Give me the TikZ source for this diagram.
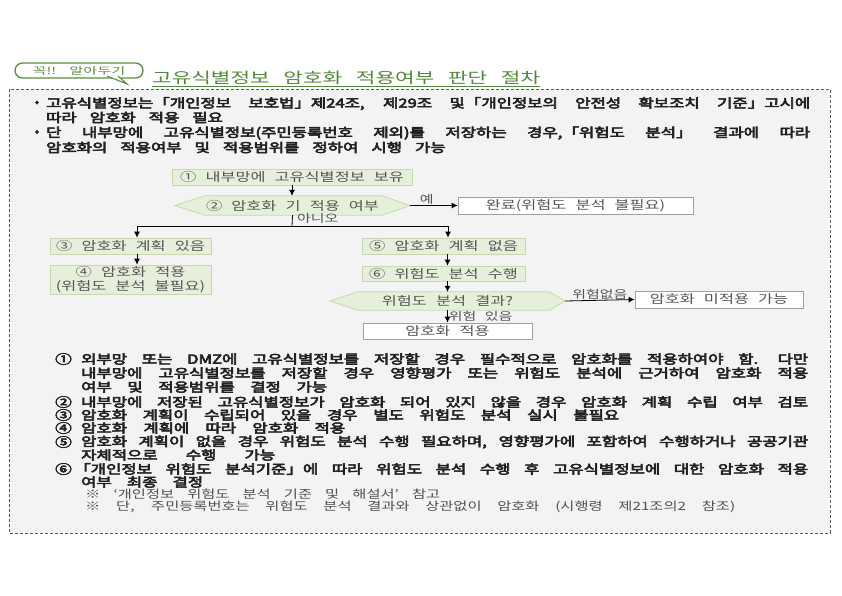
\documentclass[tikz,border=0pt]{standalone}
\usepackage{fontspec}
\usepackage{graphicx}
\setmainfont{Noto Sans CJK KR}[WordSpace=3.5]
\newfontfamily\flowfont{Noto Sans CJK KR}[WordSpace=2]
\newfontfamily\titlefont{Noto Sans CJK KR}[WordSpace=2.5]
\usetikzlibrary{arrows.meta}
\definecolor{bggray}{HTML}{F3F3F3}
\definecolor{dashc}{HTML}{5A5A5A}
\definecolor{gfill}{HTML}{E6EFDA}
\definecolor{gline}{HTML}{C6D9B0}
\definecolor{wline}{HTML}{A0A0A0}
\definecolor{flowtext}{HTML}{555555}
\definecolor{bodytext}{HTML}{222222}
\definecolor{notetext}{HTML}{505050}
\definecolor{titlegreen}{HTML}{4F8A38}
\definecolor{callgreen}{HTML}{5B8E3E}
\newcommand\fsflow{\flowfont\fontsize{12}{13.5}\selectfont}
\newcommand\fslbl{\flowfont\fontsize{11}{12}\selectfont}
\newcommand\fsbody{\fontsize{12.5}{14}\selectfont}
\newcommand\fsnote{\fontsize{11.5}{12.5}\selectfont}
\newcommand\fstitle{\titlefont\fontsize{15}{17}\selectfont}
\newcommand\widen[1]{\scalebox{1.33}[1]{#1}}
\newcommand\widenf[1]{\scalebox{1.36}[1]{#1}}
\newcommand\justln[2]{\scalebox{1.33}[1]{\makebox[\dimexpr #1*100/133\relax][s]{#2}}}
\newcommand\boldtx[1]{\special{pdf:literal direct 2 Tr 0.5 w}#1\special{pdf:literal direct 0 Tr}}
\pgfdeclarelayer{bg}
\pgfsetlayers{bg,main}
\tikzset{
  box/.style={draw=gline, fill=gfill, line width=0.8pt, inner sep=0pt, text=flowtext, font=\fsflow},
  wbox/.style={draw=wline, fill=white, line width=0.8pt, inner sep=0pt, text=flowtext, font=\fsflow},
  hexnode/.style={inner sep=0pt, text=flowtext, font=\fsflow},
  hexshape/.style={draw=gline, fill=gfill, line width=0.8pt},
  arr/.style={-{Latex[length=6pt,width=6pt]}, line width=0.8pt, black},
  lnk/.style={line width=0.8pt, black},
  lbl/.style={font=\fslbl, text=flowtext, inner sep=1pt},
  txt/.style={anchor=west, inner sep=0pt, font=\fsbody, text=bodytext},
  num/.style={anchor=west, inner sep=0pt, font=\fsbody, text=bodytext},
  note/.style={anchor=west, inner sep=0pt, font=\fsnote, text=notetext},
}
\begin{document}
\begin{tikzpicture}[x=1pt,y=-1pt]
\useasboundingbox (0,0) rectangle (842,595);
\begin{pgfonlayer}{bg}
  \fill[white] (0,0) rectangle (842,595);
  \draw[dashc, fill=bggray, line width=0.8pt, dash pattern=on 3pt off 2pt] (9,89) rectangle (830,533);
\end{pgfonlayer}

% callout and title
\node[draw=callgreen, line width=1.3pt, rounded corners=7.5pt, minimum width=128pt, minimum height=15pt, fill=white, inner sep=0pt, text=callgreen, font=\fontsize{9.5}{11}\selectfont] (call) at (79,70.5) {\scalebox{1.6}[1]{꼭!! 알아두기}};
\draw[callgreen, line width=1.1pt, fill=white] (107,76) -- (127,84) -- (118,76);
\node[anchor=west, inner sep=0pt, text=titlegreen, font=\fstitle] (title) at (152,78) {\scalebox{1.42}[1]{\makebox[\dimexpr 388pt*100/142\relax][s]{고유식별정보 암호화 적용여부 판단 절차}}};
\draw[titlegreen, line width=0.9pt] ([yshift=-1.5pt]title.south west) -- ([yshift=-1.5pt]title.south east);

% bullets
\node[inner sep=0pt, font=\fsbody, text=bodytext] (bu1) at (37,103.5) {\boldtx{•}};
\node[txt] (b1a) at (46,103.5) {\boldtx{\justln{764pt}{고유식별정보는「개인정보 보호법」제24조, 제29조 및「개인정보의 안전성 확보조치 기준」고시에}}};
\node[txt] (b1b) at (46,117.5) {\boldtx{\widen{따라 암호화 적용 필요}}};
\node[inner sep=0pt, font=\fsbody, text=bodytext] (bu2) at (37,133) {\boldtx{•}};
\node[txt] (b2a) at (46,133) {\boldtx{\justln{764pt}{단 내부망에 고유식별정보(주민등록번호 제외)를 저장하는 경우,「위험도 분석」 결과에 따라}}};
\node[txt] (b2b) at (46,147.5) {\boldtx{\widen{암호화의 적용여부 및 적용범위를 정하여 시행 가능}}};

% flowchart
\node[box, minimum width=240pt, minimum height=16pt] (n1) at (292,177) {\widenf{① 내부망에 고유식별정보 보유}};
\node[hexnode, minimum width=235pt, minimum height=19pt] (n2) at (292.5,205.5) {\widenf{② 암호화 기 적용 여부}};
\node[wbox, minimum width=235pt, minimum height=17pt] (done) at (575.5,205.5) {\widenf{완료(위험도 분석 불필요)}};
\coordinate (j) at (292,226);
\coordinate (jl) at (137,226);
\coordinate (jr) at (448,226);
\node[box, minimum width=161pt, minimum height=16pt] (n3) at (130.5,246) {\widenf{③ 암호화 계획 있음}};
\node[box, minimum width=161pt, minimum height=29pt, align=center] (n4) at (130.5,279.5) {\widenf{④ 암호화 적용}\\\widenf{(위험도 분석 불필요)}};
\node[box, minimum width=163pt, minimum height=16pt] (n5) at (443.5,246) {\widenf{⑤ 암호화 계획 없음}};
\node[box, minimum width=163pt, minimum height=15pt] (n6) at (443.5,273.5) {\widenf{⑥ 위험도 분석 수행}};
\node[hexnode, minimum width=235pt, minimum height=18pt] (n7) at (447.5,301) {\widenf{위험도 분석 결과?}};
\node[wbox, minimum width=168pt, minimum height=17pt] (n8) at (719,299.5) {\widenf{암호화 미적용 가능}};
\node[wbox, minimum width=169pt, minimum height=16pt] (n9) at (447.5,331) {\widenf{암호화 적용}};

\begin{pgfonlayer}{bg}
  \draw[hexshape] (n2.west) -- ([xshift=30pt]n2.north west) -- ([xshift=-28pt]n2.north east) -- (n2.east) -- ([xshift=-28pt]n2.south east) -- ([xshift=30pt]n2.south west) -- cycle;
  \draw[hexshape] (n7.west) -- ([xshift=28pt]n7.north west) -- ([xshift=-16pt]n7.north east) -- (n7.east) -- ([xshift=-16pt]n7.south east) -- ([xshift=28pt]n7.south west) -- cycle;
\end{pgfonlayer}

\draw[arr] (n1.south) -- (n1.south |- n2.north);
\draw[arr] (n2.east) -- node[lbl, above, pos=0.35] (lyes) {\widenf{예}} (done.west);
\draw[lnk] (n2.south) -- (j);
\node[lbl, anchor=west] (lno) at (296,218.5) {\widenf{아니오}};
\draw[lnk] (jl) -- (jr);
\draw[arr] (jl) -- (jl |- n3.north);
\draw[arr] (jr) -- (jr |- n5.north);
\draw[arr] (n3.south -| jl) -- (n4.north -| jl);
\draw[arr] (n5.south -| n7.north) -- (n6.north -| n7.north);
\draw[arr] (n6.south -| n7.north) -- (n7.north);
\draw[arr] (n7.east) -- node[lbl, above] (lsafe) {\widenf{위험없음}} (n8.west);
\draw[arr] (n7.south) -- node[lbl, right] (lrisk) {\widenf{위험 있음}} (n9.north);

% numbered list
\node[num] (c1) at (55,359) {\boldtx{\widen{①}}};
\node[txt] (l1) at (81,359) {\boldtx{\justln{727pt}{외부망 또는 DMZ에 고유식별정보를 저장할 경우 필수적으로 암호화를 적용하여야 함. 다만}}};
\node[txt] (l2) at (81,373) {\boldtx{\justln{727pt}{내부망에 고유식별정보를 저장할 경우 영향평가 또는 위험도 분석에 근거하여 암호화 적용}}};
\node[txt] (l3) at (81,387) {\boldtx{\justln{246pt}{여부 및 적용범위를 결정 가능}}};
\node[num] (c2) at (55,402) {\boldtx{\widen{②}}};
\node[txt] (l4) at (81,402) {\boldtx{\justln{727pt}{내부망에 저장된 고유식별정보가 암호화 되어 있지 않을 경우 암호화 계획 수립 여부 검토}}};
\node[num] (c3) at (55,415) {\boldtx{\widen{③}}};
\node[txt] (l5) at (81,415) {\boldtx{\justln{538pt}{암호화 계획이 수립되어 있을 경우 별도 위험도 분석 실시 불필요}}};
\node[num] (c4) at (55,428) {\boldtx{\widen{④}}};
\node[txt] (l6) at (81,428) {\boldtx{\justln{264pt}{암호화 계획에 따라 암호화 적용}}};
\node[num] (c5) at (55,442) {\boldtx{\widen{⑤}}};
\node[txt] (l7) at (81,442) {\boldtx{\justln{727pt}{암호화 계획이 없을 경우 위험도 분석 수행 필요하며, 영향평가에 포함하여 수행하거나 공공기관}}};
\node[txt] (l8) at (81,455) {\boldtx{\justln{194pt}{자체적으로 수행 가능}}};
\node[num] (c6) at (55,469) {\boldtx{\widen{⑥}}};
\node[txt] (l9) at (74,469) {\boldtx{\justln{734pt}{「개인정보 위험도 분석기준」에 따라 위험도 분석 수행 후 고유식별정보에 대한 암호화 적용}}};
\node[txt] (l10) at (81,482) {\boldtx{\justln{122pt}{여부 최종 결정}}};
\node[note] (m1) at (85,494.5) {\justln{355pt}{※ ‘개인정보 위험도 분석 기준 및 해설서’ 참고}};
\node[note] (m2) at (85,507) {\justln{650pt}{※ 단, 주민등록번호는 위험도 분석 결과와 상관없이 암호화 (시행령 제21조의2 참조)}};
\end{tikzpicture}
\end{document}
